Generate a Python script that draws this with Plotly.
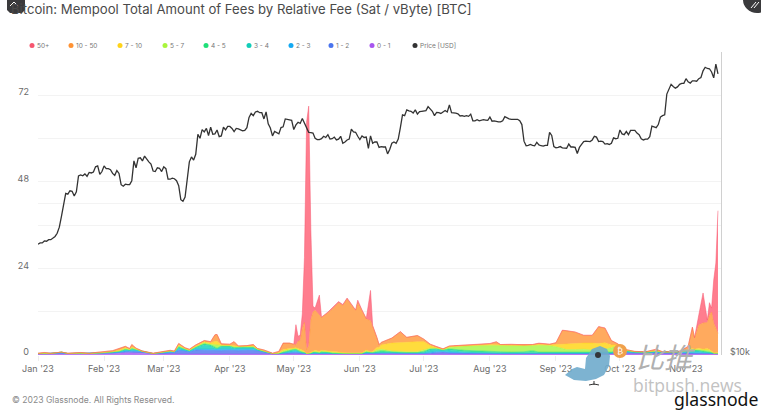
import datetime as dt
import plotly.graph_objects as go

W, H = 761, 411
START = dt.date(2023, 1, 1)

series_names = ["50+", "10 - 50", "7 - 10", "5 - 7", "4 - 5", "3 - 4", "2 - 3", "1 - 2", "0 - 1", "Price [USD]"]
line_colors = ["#f7566f", "#ff9233", "#ffd31a", "#a9f53c", "#1fdf78", "#12cdb8", "#14a9f2", "#4a74ee", "#a855ef", "#333333"]
fill_colors = ["#ff7d8e", "#ffaa5e", "#ffdc3d", "#b5f765", "#4ae694", "#3cd8c8", "#3db8f5", "#6f8ff2", "#bb7bf3"]

month_ticks = ["2023-01-01", "2023-02-01", "2023-03-01", "2023-04-01", "2023-05-01", "2023-06-01",
               "2023-07-01", "2023-08-01", "2023-09-01", "2023-10-01", "2023-11-01"]
month_labels = ["Jan '23", "Feb '23", "Mar '23", "Apr '23", "May '23", "Jun '23",
                "Jul '23", "Aug '23", "Sep '23", "Oct '23", "Nov '23"]

price_k = [
    16.6,16.7,16.7,16.85,16.83,16.95,16.95,17.1,17.2,17.45,17.95,18.85,19.9,20.95,20.87,21.2,21.15,20.7,21.1,22.7,22.8,22.7,22.9,22.65,23.05,23.0,23.1,23.65,23.75,22.85,23.15,
    23.75,23.45,23.45,23.35,22.95,22.75,23.25,22.95,21.8,21.65,21.85,21.8,21.8,22.2,24.3,23.55,24.6,24.65,24.3,24.85,24.45,24.2,23.95,23.2,23.15,23.55,23.5,23.15,
    23.65,23.45,22.35,22.35,22.45,22.4,22.2,21.7,20.35,20.2,20.6,22.15,24.2,24.75,24.4,25.05,27.45,26.95,28.05,27.75,28.2,27.3,28.35,27.45,27.5,27.99,27.15,27.25,28.35,28.0,28.45,
    28.45,28.2,27.8,28.2,28.15,28.05,27.9,27.95,28.3,29.65,30.2,29.9,30.4,30.5,30.3,30.3,29.45,30.4,28.8,28.25,27.25,27.8,27.6,27.5,28.3,28.4,29.45,29.35,29.25,29.25,
    28.05,28.65,29.0,28.85,29.5,28.85,28.45,27.7,27.65,27.6,26.95,26.8,26.8,26.9,27.2,27.05,27.4,26.85,26.9,27.1,26.75,26.85,27.2,26.35,26.5,26.75,26.85,28.1,27.75,27.7,27.2,
    26.8,27.25,27.05,27.1,25.75,27.25,26.35,26.5,26.5,25.85,25.95,25.9,25.9,25.1,25.6,26.35,26.5,26.35,26.85,28.3,30.0,29.9,30.7,30.55,30.5,30.25,30.7,30.1,30.45,30.5,
    30.6,30.6,31.15,30.8,30.5,29.9,30.35,30.3,30.2,30.4,30.6,30.4,31.4,30.3,30.3,30.25,30.15,29.85,29.9,29.8,29.9,29.8,30.1,29.2,29.2,29.35,29.2,29.3,29.35,29.3,29.25,
    29.7,29.15,29.2,29.1,29.05,29.05,29.2,29.75,29.55,29.45,29.4,29.4,29.3,29.4,29.2,28.7,26.6,26.05,26.1,26.2,26.1,26.05,26.45,26.15,26.05,26.0,26.1,26.1,27.7,27.3,25.95,
    25.8,25.85,25.95,25.8,25.8,25.75,26.25,25.9,25.9,25.85,25.15,25.85,26.2,26.55,26.6,26.55,26.55,26.75,27.2,27.1,26.55,26.6,26.55,26.25,26.3,26.2,26.35,27.0,26.9,26.95,
    28.0,27.5,27.4,27.8,27.4,27.95,27.95,27.95,27.6,27.4,26.9,26.75,26.85,26.85,27.15,28.5,28.4,28.3,28.7,29.7,29.9,30.0,33.0,33.9,34.5,34.15,33.9,34.1,34.5,34.65,34.65,
    35.4,34.9,34.7,35.05,35.05,35.0,35.4,35.6,36.7,37.3,37.1,37.05,36.5,35.55,37.85,36.2,
]

fee_days = [
    0,3,6,11,14,20,24,30,35,38, 41,43,44,46,49,54,58,62,64,66, 69,71,74,78,81,83,84,86,90,92,
    94,98,101,103,106,110,113,115,118,120, 121,122,123,124,125,126,127,128,129,130, 132,133,136,138,141,143,145,149,150,152,
    154,156,157,159,160,161,166,170,173,178, 181,184,187,190,193,200,206,212,215,217, 222,228,232,235,240,243,246,248,252,256,
    260,263,266,269,272,275,280,285,290,293, 300,302,305,307,308,310,312,314,315,316, 317,318,319,
]
fee_0_1 = [
    .3,.3,.3,.3,.3,.3,.3,.3,.4,.5, .6,.6,.6,.6,.5,.3,.3,.4,.4,.4, .4,.4,.4,.4,.4,.4,.4,.4,.4,.4,
    .4,.4,.4,.4,.4,.3,.3,.3,.3,.3, .3,.3,.3,.3,.3,.3,.3,.3,.3,.3, .3,.3,.3,.3,.3,.3,.3,.3,.3,.3,
    .3,.3,.3,.3,.3,.3,.3,.3,.3,.3, .3,.3,.3,.3,.3,.3,.3,.3,.3,.3, .3,.3,.3,.3,.3,.3,.3,.3,.3,.3,
    .3,.3,.3,.3,.3,.3,.3,.3,.3,.3, .3,.3,.3,.3,.3,.3,.3,.3,.3,.3, .3,.3,.3,
]
fee_1_2 = [
    .1,.1,.1,.2,.1,.1,.1,.1,.1,.2, .4,.4,.4,.4,.3,.1,.2,.3,.3,.9, .8,.5,1.0,.9,.8,.9,.9,.8,.9,.8,
    .8,.9,.9,.8,.5,.1,.1,.2,.3,.4, .4,.3,.2,.1,.1,.1,.1,.1,.1,.1, .1,.1,.1,.1,.1,.1,.1,.1,.1,.1,
    .2,.1,.1,.2,.2,.3,.2,.1,.1,.1, .1,.2,.4,.5,.3,.2,.1,.1,.1,.1, .1,.1,.1,.1,.1,.1,.1,.1,.1,.1,
    .1,.1,.1,.1,.3,.4,.3,.3,.4,.3, .3,.3,.3,.3,.3,.3,.2,.2,.1,.1, .1,.1,.1,
]
fee_2_3 = [
    0,.1,0,.2,0,.1,0,.1,.1,.1, .2,.1,.2,.2,.1,0,.1,.1,.1,.2, .1,.1,.2,.3,.3,.2,.2,.3,.3,.2,
    .3,.3,.3,.1,.1,0,0,.1,.2,.3, .3,.2,.1,.1,.1,0,0,0,.1,.1, 0,.1,.1,0,0,0,0,0,0,0,
    .1,.1,.1,.1,.1,.1,.1,.1,.1,.1, .1,.3,.3,.2,.2,.1,.1,.1,.1,.1, .1,.1,.1,.1,.1,.1,.1,.1,.1,.1,
    .1,.1,.1,.1,.2,.2,.1,.1,.1,.1, .1,.1,.2,.2,.2,.2,.1,.1,.1,.1, 0,0,0,
]
fee_3_4 = [
    0,0,0,.1,0,0,0,.1,.1,.1, .2,.2,.3,.2,.1,0,.1,.2,.1,.5, .2,.1,.4,1.2,1.0,.3,.2,.8,.7,.5,
    .5,.5,.4,.1,0,0,0,.1,.2,.3, .3,.2,.2,.1,.1,0,0,0,.1,.1, .1,.1,.1,0,0,0,0,0,0,0,
    .1,.1,.1,.1,.1,.2,.1,.1,.1,.1, .2,.6,.6,.3,.6,.3,.2,.1,.1,.1, .1,.1,.2,.1,.1,.1,.1,.1,.1,.1,
    .1,.1,.1,.1,.2,.2,.1,.1,.1,.1, .1,.1,.2,.3,.3,.3,.2,.1,.1,.1, 0,0,0,
]
fee_4_5 = [
    0,0,0,0,0,0,0,0,.1,.1, .2,.1,.3,.1,0,0,0,.1,0,.3, .1,.1,.2,.3,.3,.3,.2,.2,.2,.2,
    .2,.2,.2,.1,0,0,0,.1,.2,.3, .3,.2,.2,.2,.1,0,0,.1,.2,.2, .1,.2,.2,.1,.1,0,0,0,0,0,
    .1,.1,.1,.2,.3,.3,.2,.1,.1,.1, .3,.3,.2,.1,.3,.4,.4,.3,.3,.3, .2,.3,.5,.2,.2,.2,.1,.1,.1,.1,
    .1,.1,.1,.2,.4,.1,0,0,.1,0, 0,.1,.2,.3,.3,.2,.3,.1,.2,.1, 0,0,0,
]
fee_5_7 = [
    0,0,0,0,0,0,0,0,0,.1, .2,.1,.2,.1,0,0,0,0,0,.2, .1,.1,.1,.3,.2,.9,.9,.1,.1,.2,
    .1,.1,.1,.1,0,0,.1,.3,.3,.2, .2,.3,.3,.2,.1,0,0,.1,.1,.2, .2,.3,.1,.2,.1,.1,.1,.1,.1,.1,
    .3,.1,.1,.5,.4,.4,.2,.2,.2,.2, .4,.2,.1,.1,.4,1.2,1.5,1.8,1.8,1.7, 1.8,1.6,1.4,1.9,1.8,1.5,1.0,.8,.8,.9,
    .7,.7,.9,1.2,1.2,.2,.1,0,.1,0, 0,.1,.1,.2,.1,.2,.2,.6,.5,.1, .1,.1,.1,
]
fee_7_10 = [
    0,.1,0,0,0,.1,0,.1,.1,.2, .2,.1,.2,.1,0,0,0,0,0,.3, .1,.1,.1,.3,.3,.8,1.0,.2,.1,.2,
    .1,.1,.2,.1,.1,0,.1,.4,.3,.2, .2,.3,.4,.4,.2,.1,.1,.2,.2,.3, .2,.2,.2,.3,.1,.1,.1,.1,.1,.1,
    .3,.1,.2,.7,.7,1.2,2.2,2.6,2.7,2.8, 2.3,.7,.1,.1,.2,.1,.1,.2,.2,.2, .1,.1,.1,.2,.2,.6,1.3,1.5,1.8,1.7,
    1.9,1.8,1.8,.8,.2,.1,0,0,.1,0, 0,.1,.1,.2,.1,.4,.3,.4,.2,.2, .1,.1,.1,
]
fee_10_50 = [
    .1,.1,.1,0,.1,.1,.1,.2,.3,.5, .4,.2,.7,.2,.1,.1,.2,.2,.2,.4, .2,.2,.4,.3,.4,1.8,1.9,.3,.3,1.2,
    .1,.1,.4,.1,.3,.1,.4,1.8,1.5,1.0, .8,2.0,2.3,6.0,8.0,1.0,2.0,9.0,10.8,11.1, 10.0,9.1,10.6,11.7,13.8,13.1,14.9,11.7,13.9,11.7,
    8.6,8.6,7.1,2.7,.8,.7,1.4,2.9,1.3,1.7, .7,.4,.3,.1,.2,.1,.15,.2,.7,.1, .2,.2,.2,.3,.2,.5,3.8,3.7,3.0,2.1,
    2.1,4.6,4.0,1.2,.3,.1,.1,.1,.4,.1, .1,.2,1.0,5.9,3.2,6.4,7.3,7.2,9.5,10.9, 8.2,6.9,5.4,
]
fee_50_plus = [
    0,0,0,0,0,0,0,0,0,0, 0,0,0,0,0,0,0,0,0,0, 0,0,0,0,0,0,0,0,0,0,
    0,0,0,0,0,0,0,0,0,0, 5.6,1.4,1.5,4.0,18.0,63.0,66.5,25.0,1.6,.6, 5.6,.1,.2,.3,.3,.3,.3,.2,.7,.2,
    .1,8.4,.1,.1,0,0,0,.1,0,0, 0,0,0,0,0,0,0,.1,.1,0, .1,0,0,.1,0,0,.1,.1,.1,.1,
    .1,.1,.1,0,0,0,0,0,0,0, 0,0,0,0,0,2.8,8.3,.7,3.5,1.1, 12.0,18.0,34.0,
]
stack_bottom_up = [fee_0_1, fee_1_2, fee_2_3, fee_3_4, fee_4_5, fee_5_7, fee_7_10, fee_10_50, fee_50_plus]
for col in stack_bottom_up:
    if len(col) != len(fee_days):
        raise ValueError(f"length {len(col)} vs {len(fee_days)}")

left_ticks = [0, 12, 24, 36, 48, 60, 72, 84]
left_labels = ["0", "", "24", "", "48", "", "72", ""]
right_ticks = [10000, 20000, 40000]
right_labels = ["$10k", "", ""]

fee_x = [(START + dt.timedelta(days=d)).isoformat() for d in fee_days]
price_x = [(START + dt.timedelta(days=i)).isoformat() for i in range(len(price_k))]

def px(x): return x / W
def py(y): return 1 - y / H

fig = go.Figure()
for i, col in enumerate(stack_bottom_up):
    k = 8 - i
    fig.add_trace(go.Scatter(x=fee_x, y=col, name=series_names[k], mode="lines", stackgroup="fees",
                             line=dict(color=line_colors[k], width=0.5), fillcolor=fill_colors[k],
                             showlegend=False, yaxis="y"))
fig.add_trace(go.Scatter(x=price_x, y=[v * 1000 for v in price_k], name=series_names[9], mode="lines",
                         line=dict(color=line_colors[9], width=1.3), showlegend=False, yaxis="y2"))

GRID = "#f3f3f3"
TICK = "#6b6b6b"
fig.update_layout(
    template="none",
    width=W, height=H, autosize=False, margin=dict(l=0, r=0, t=0, b=0, pad=0),
    paper_bgcolor="white", plot_bgcolor="white", showlegend=False,
    font=dict(family="Inter", size=9, color=TICK),
    xaxis=dict(domain=[px(38), px(721)], type="date", range=["2023-01-01", "2023-11-17 10:00"],
               tickmode="array", tickvals=month_ticks, ticktext=month_labels, showgrid=False, automargin=False,
               ticks="outside", ticklen=5, tickcolor="#eeeeee", tickfont=dict(size=9, color=TICK),
               showline=False, zeroline=False, anchor="y"),
    yaxis=dict(domain=[py(355), py(52)], range=[0, 84], tickmode="array", tickvals=left_ticks, ticktext=left_labels,
               gridcolor=GRID, gridwidth=1, zeroline=False, showline=False, ticks="", automargin=False,
               tickfont=dict(size=9, color=TICK), ticklabelshift=-3, ticklabelstandoff=8, anchor="x"),
    yaxis2=dict(domain=[py(355), py(52)], type="log", range=[4, 4.60206], overlaying="y", side="right",
                tickmode="array", tickvals=right_ticks, ticktext=right_labels, gridcolor=GRID, gridwidth=1,
                showgrid=True, zeroline=False, showline=True, linecolor="#d0d0d0", linewidth=1.2, ticks="",
                automargin=False, tickfont=dict(size=9, color=TICK), ticklabelshift=-3, ticklabelstandoff=6, anchor="x"),
)

annotations = []
shapes = []
def text(x, y, s, size, color, anchor="left", family="Inter", **kw):
    dx = -2 if anchor == "left" else 0
    annotations.append(dict(xref="paper", yref="paper", x=px(x + dx), y=py(y), text=s, showarrow=False, xanchor=anchor,
                            yanchor="middle", font=dict(size=size, color=color, family=family), **kw))

text(11, 8.5, "Bitcoin: Mempool Total Amount of Fees by Relative Fee (Sat / vByte) [BTC]", 13.15, "#4a4a4a")
text(12, 400, "© 2023 Glassnode. All Rights Reserved.", 8.6, "#8a8a8a")

legend_x = [32, 71, 120, 165, 206, 249, 291, 331, 372, 415]
for name, color, x in zip(series_names, line_colors, legend_x):
    shapes.append(dict(type="circle", xref="paper", yref="paper", x0=px(x - 2.5), x1=px(x + 2.5), y0=py(48), y1=py(43),
                       fillcolor=color, line=dict(width=0)))
    text(x + 5, 45.5, name, 6.5, "#777777")

def path(points, closed=True):
    s = "M " + " L ".join(f"{px(a):.5f},{py(b):.5f}" for a, b in points)
    return s + (" Z" if closed else "")

# page furniture: tabs at the top corners
shapes.append(dict(type="path", xref="paper", yref="paper", fillcolor="#3a3a3c", line=dict(width=0),
                   path=path([(7, 0), (25, 0), (25, 10), (22, 13), (10, 13), (7, 10)])))
shapes.append(dict(type="path", xref="paper", yref="paper", line=dict(color="white", width=1),
                   path=path([(10, 6), (14, 2), (18, 6)], closed=False)))
shapes.append(dict(type="circle", xref="paper", yref="paper", x0=px(743), x1=px(771), y0=py(13), y1=py(-14),
                   fillcolor="#3a3a3c", line=dict(width=0)))
shapes.append(dict(type="path", xref="paper", yref="paper", line=dict(color="white", width=1),
                   path=path([(751, 8), (756, 2)], closed=False)))
shapes.append(dict(type="path", xref="paper", yref="paper", line=dict(color="white", width=1),
                   path=path([(754, 8), (759, 2)], closed=False)))

# watermark
text(665, 356, "<i>比推</i>", 28, "#b0b0b0", anchor="center", family="Noto Sans CJK SC")
text(687, 385, "bitpush.news", 17.5, "#c2c2c2", anchor="center", family="Open Sans")
text(716, 399, "glassnode", 17.6, "#111111", anchor="center", family="Noto Sans")
shapes.append(dict(type="path", xref="paper", yref="paper", fillcolor="#6fabcc", opacity=0.9, line=dict(width=0),
                   path=path([(565, 375), (572, 369), (577, 367), (585, 369), (586, 358), (592, 349), (600, 346),
                              (607, 349), (610, 356), (609, 366), (604, 375), (596, 379), (586, 381), (574, 380)])))
shapes.append(dict(type="circle", xref="paper", yref="paper", x0=px(595), x1=px(601), y0=py(358), y1=py(352),
                   fillcolor="#33363a", line=dict(width=0)))
shapes.append(dict(type="path", xref="paper", yref="paper", line=dict(color="#333333", width=1),
                   path=path([(594, 381), (594, 385)], closed=False)))
shapes.append(dict(type="path", xref="paper", yref="paper", line=dict(color="#333333", width=1),
                   path=path([(589, 385), (594, 384), (599, 385)], closed=False)))
shapes.append(dict(type="circle", xref="paper", yref="paper", x0=px(613), x1=px(627), y0=py(358), y1=py(344),
                   fillcolor="#f0a04b", line=dict(width=0)))
text(620, 351, "₿", 9, "white", anchor="center", family="DejaVu Sans")

fig.update_layout(annotations=annotations, shapes=shapes)
fig.write_html("out.html", config=dict(displayModeBar=False),
               post_script="document.body.style.margin='0';document.body.style.overflow='hidden';")
